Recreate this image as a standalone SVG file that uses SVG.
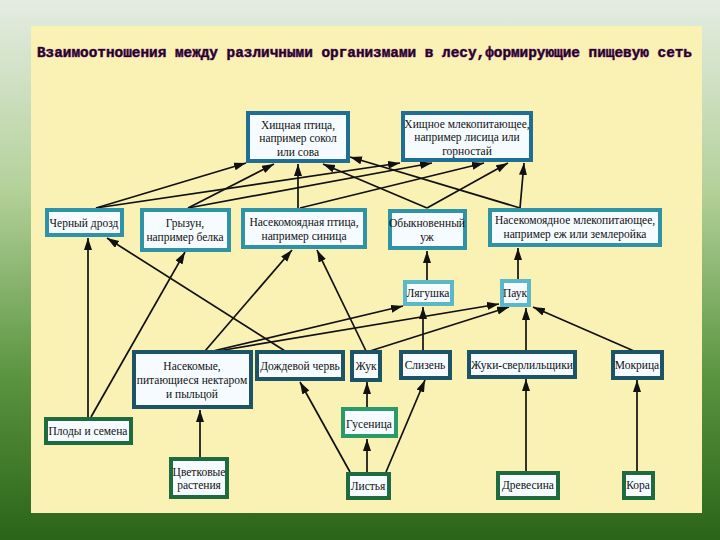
<svg xmlns="http://www.w3.org/2000/svg" width="720" height="540" viewBox="0 0 720 540">
<defs>
<linearGradient id="bg" x1="0" y1="0" x2="0" y2="1">
<stop offset="0" stop-color="#e4ece2"/>
<stop offset="0.35" stop-color="#b4d19a"/>
<stop offset="0.7" stop-color="#5a9440"/>
<stop offset="1" stop-color="#2a6418"/>
</linearGradient>
<marker id="ah" markerUnits="userSpaceOnUse" markerWidth="13" markerHeight="9" refX="12" refY="4" orient="auto">
<path d="M0,0 L12,4 L0,8 z" fill="#111"/>
</marker>
<style>
.title{font-family:"Liberation Mono","DejaVu Sans Mono",monospace;font-weight:bold;font-size:14px;fill:#1c0820;stroke:#a33aa3;stroke-width:0.7;paint-order:stroke}
.t{font-family:"Liberation Serif","DejaVu Serif",serif;font-size:11.5px;fill:#111;text-anchor:middle}
.box{fill:#f6fbff;stroke-width:4}
.top{stroke:#1e6e96}
.mid{stroke:#2f93a8}
.lt{stroke:#5bb8c8}
.low{stroke:#1d5366}
.grn{stroke:#2a9a6a}
.dg{stroke:#1e6b40}
#connectors line{stroke:#111;stroke-width:1.7;marker-end:url(#ah)}
</style>
</defs>
<rect width="720" height="540" fill="url(#bg)"/>
<rect x="31" y="26" width="671" height="487" fill="#faf1b4"/>
<text class="title" x="37" y="57" textLength="655" lengthAdjust="spacingAndGlyphs">Взаимоотношения между различными организмами в лесу,формирующие пищевую сеть</text>

<g id="connectors">
<line x1="96" y1="208" x2="246" y2="163"/>
<line x1="96" y1="208" x2="400" y2="163"/>
<line x1="188" y1="208" x2="274" y2="164"/>
<line x1="188" y1="208" x2="432" y2="163"/>
<line x1="298" y1="208" x2="298" y2="164"/>
<line x1="300" y1="208" x2="484" y2="163"/>
<line x1="427" y1="208" x2="323" y2="164"/>
<line x1="427" y1="208" x2="508" y2="163"/>
<line x1="520" y1="208" x2="350" y2="157"/>
<line x1="520" y1="208" x2="524" y2="163"/>
<line x1="88" y1="417" x2="88" y2="238"/>
<line x1="91" y1="417" x2="185" y2="252"/>
<line x1="285" y1="351" x2="107" y2="238"/>
<line x1="205" y1="351" x2="292" y2="250"/>
<line x1="366" y1="351" x2="317" y2="250"/>
<line x1="213" y1="351" x2="403" y2="306"/>
<line x1="218" y1="351" x2="499" y2="304"/>
<line x1="370" y1="351" x2="509" y2="307"/>
<line x1="423" y1="351" x2="423" y2="307"/>
<line x1="526" y1="351" x2="526" y2="308"/>
<line x1="634" y1="351" x2="533" y2="307"/>
<line x1="427" y1="281" x2="427" y2="251"/>
<line x1="518" y1="279" x2="518" y2="248"/>
<line x1="200" y1="457" x2="200" y2="410"/>
<line x1="350" y1="472" x2="300" y2="382"/>
<line x1="367" y1="472" x2="367" y2="439"/>
<line x1="367" y1="407" x2="367" y2="382"/>
<line x1="386" y1="472" x2="425" y2="380"/>
<line x1="526" y1="471" x2="526" y2="379"/>
<line x1="637" y1="471" x2="637" y2="380"/>
</g>

<g id="n-hisch-ptica"><rect class="box top" x="248" y="113" width="100" height="48"/>
<text class="t" x="298" y="129">Хищная птица,</text><text class="t" x="298" y="142">например сокол</text><text class="t" x="298" y="156">или сова</text></g>
<g id="n-hisch-mlek"><rect class="box top" x="403" y="113" width="128" height="47"/>
<text class="t" x="467" y="128">Хищное млекопитающее,</text><text class="t" x="467" y="141">например лисица или</text><text class="t" x="467" y="155">горностай</text></g>

<g id="n-drozd"><rect class="box mid" x="47" y="210" width="75" height="25"/>
<text class="t" x="84" y="227">Черный дрозд</text></g>
<g id="n-gryzun"><rect class="box mid" x="142" y="210" width="87" height="40"/>
<text class="t" x="185" y="227">Грызун,</text><text class="t" x="185" y="241">например белка</text></g>
<g id="n-nas-ptica"><rect class="box mid" x="243" y="210" width="122" height="37"/>
<text class="t" x="304" y="226">Насекомоядная птица,</text><text class="t" x="304" y="240">например синица</text></g>
<g id="n-uzh"><rect class="box mid" x="390" y="211" width="75" height="37"/>
<text class="t" x="427" y="227">Обыкновенный</text><text class="t" x="427" y="241">уж</text></g>
<g id="n-nas-mlek"><rect class="box mid" x="490" y="210" width="170" height="35"/>
<text class="t" x="575" y="224">Насекомоядное млекопитающее,</text><text class="t" x="575" y="238">например еж или землеройка</text></g>

<g id="n-lyagushka"><rect class="box lt" x="405" y="282" width="47" height="22"/>
<text class="t" x="428" y="297">Лягушка</text></g>
<g id="n-pauk"><rect class="box lt" x="502" y="281" width="27" height="24"/>
<text class="t" x="515" y="297">Паук</text></g>

<g id="n-nasekomye"><rect class="box low" x="134" y="352" width="117" height="55"/>
<text class="t" x="192" y="370">Насекомые,</text><text class="t" x="192" y="384">питающиеся нектаром</text><text class="t" x="192" y="398">и пыльцой</text></g>
<g id="n-cherv"><rect class="box low" x="257" y="352" width="86" height="27"/>
<text class="t" x="300" y="370">Дождевой червь</text></g>
<g id="n-zhuk"><rect class="box low" x="352" y="352" width="28" height="28"/>
<text class="t" x="366" y="370">Жук</text></g>
<g id="n-slizen"><rect class="box low" x="401" y="352" width="49" height="26"/>
<text class="t" x="425" y="369">Слизень</text></g>
<g id="n-zhuki-sverl"><rect class="box low" x="469" y="352" width="106" height="25"/>
<text class="t" x="522" y="369">Жуки-сверлильщики</text></g>
<g id="n-mokrica"><rect class="box low" x="613" y="352" width="49" height="26"/>
<text class="t" x="637" y="369">Мокрица</text></g>

<g id="n-gusenica"><rect class="box grn" x="343" y="409" width="53" height="27"/>
<text class="t" x="369" y="428">Гусеница</text></g>
<g id="n-plody"><rect class="box dg" x="46" y="419" width="85" height="24"/>
<text class="t" x="88" y="435">Плоды и семена</text></g>
<g id="n-cvetkovye"><rect class="box dg" x="171" y="459" width="56" height="38"/>
<text class="t" x="199" y="476">Цветковые</text><text class="t" x="199" y="489">растения</text></g>
<g id="n-listya"><rect class="box dg" x="348" y="474" width="41" height="24"/>
<text class="t" x="368" y="490">Листья</text></g>
<g id="n-drevesina"><rect class="box dg" x="498" y="473" width="60" height="25"/>
<text class="t" x="528" y="489">Древесина</text></g>
<g id="n-kora"><rect class="box dg" x="624" y="473" width="29" height="25"/>
<text class="t" x="638" y="489">Кора</text></g>
</svg>
